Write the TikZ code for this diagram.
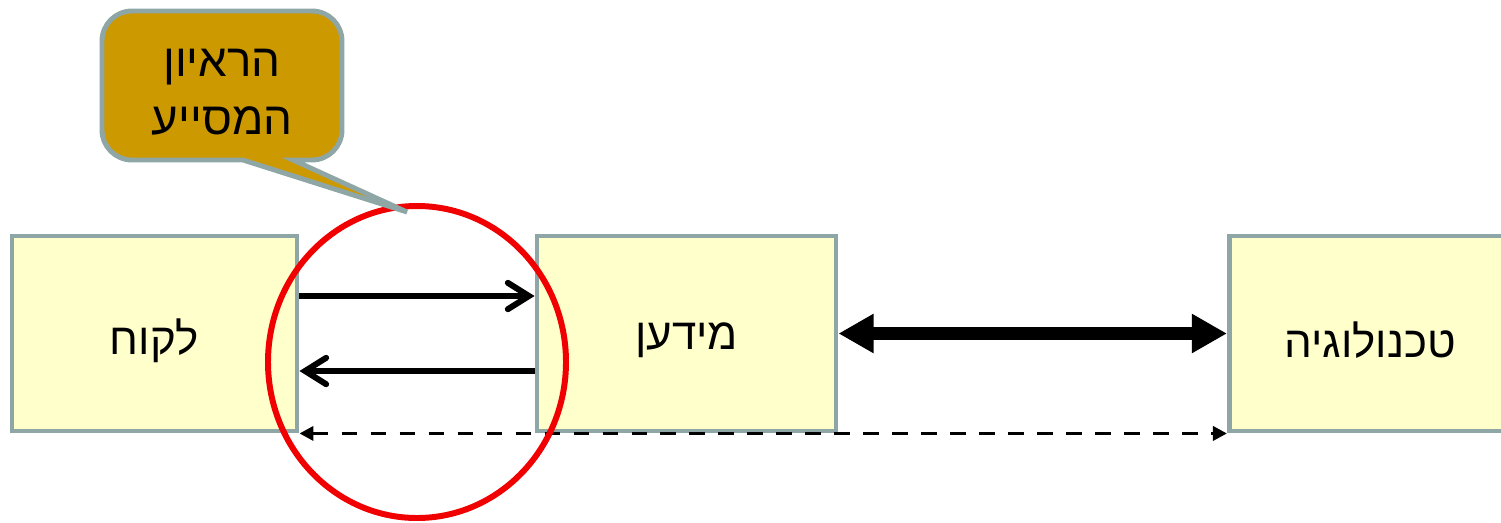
\documentclass[tikz,border=0pt]{standalone}
\usepackage{fontspec}
\setmainfont{Liberation Sans}
\newfontfamily\hebfont[Script=Hebrew]{Liberation Sans}
\TeXXeTstate=1
\usetikzlibrary{arrows.meta,calc}
\definecolor{boxfill}{HTML}{FFFFCC}
\definecolor{boxline}{HTML}{8FA6A6}
\definecolor{callfill}{HTML}{CC9900}
\definecolor{ringred}{HTML}{F00000}
\tikzset{
  box/.style={draw=boxline, fill=boxfill, line width=2.8pt, minimum height=3.9cm, inner sep=0pt},
  lbl/.style={font=\hebfont\fontsize{25}{30}\selectfont, inner sep=0pt},
  thinarrow/.style={line width=3.4pt, -{Straight Barb[length=12pt,width=15pt,line width=3.4pt,line cap=round]}},
  bigarrow/.style={line width=7.5pt, {Triangle[length=20pt,width=21pt]}-{Triangle[length=20pt,width=21pt]}},
  dasharrow/.style={line width=2.2pt, dash pattern=on 9pt off 7.5pt,
    {Triangle[length=8pt,width=8pt]}-{Triangle[length=8pt,width=8pt]}},
}
\begin{document}
\begin{tikzpicture}[x=0.02cm,y=-0.02cm]
\useasboundingbox (0,0) rectangle (1501,522);
% boxes
\node[box, minimum width=5.7cm] (L) at (154.5,333.5) {};
\node[box, minimum width=5.98cm] (M) at (686.5,333.5) {};
\node[box, minimum width=5.72cm, anchor=west] (T) at (1227,333.5) {};
\node[lbl] (Lt) at ($(L.center)+(0,7)$) {\beginR לקוח\endR};
\node[lbl] (Mt) at ($(M.center)+(0,7)$) {\beginR מידען\endR};
\node[lbl] (Tt) at (1370,340.5) {\beginR טכנולוגיה\endR};
% connectors
\draw[thinarrow] (L.east |- {0,296}) -- (M.west |- {0,296});
\draw[thinarrow] (M.west |- {0,371}) -- (L.east |- {0,371});
\draw[bigarrow] (M.east) -- (T.west);
\draw[dasharrow] (L.south east) -- (T.south west);
% red ellipse
\draw[ringred, line width=3.4pt] (417,362) ellipse [x radius=149, y radius=156];
% callout
\draw[boxline, fill=callfill, line width=2.8pt]
  (243,160) -- (407,212) -- (293,160)
  [rounded corners=0.6cm] -- (342,160) -- (342,11) -- (102,11) -- (102,160)
  [sharp corners] -- cycle;
\node[align=center, font=\hebfont\fontsize{26}{33}\selectfont] (C) at (222,92)
  {\beginR הראיון\endR\\\beginR המסייע\endR};
\end{tikzpicture}
\end{document}
